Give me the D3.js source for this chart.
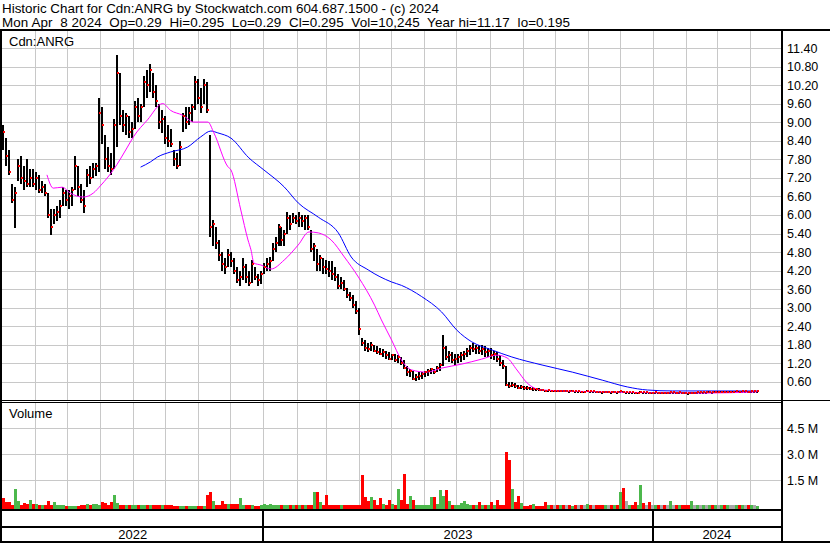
<!DOCTYPE html>
<html>
<head>
<meta charset="utf-8">
<script src="https://cdn.jsdelivr.net/npm/d3@7"></script>
<style>
body { margin: 0; background: #fff; }
svg { display: block; font-family: "Liberation Sans", Arial, sans-serif; }
text { white-space: pre; }
</style>
</head>
<body>
<svg id="chart" width="830" height="543"></svg>
<script>
// bars = 2 trading days each, May 2 2022 .. Apr 8 2024
const hi = [
  8.9, 8.5, 8.1, 7.0, 6.9, 7.8, 7.9, 7.6, 7.8, 7.5,
  7.5, 7.4, 7.3, 7.1, 7.0, 6.7, 6.2, 6.2, 6.3, 6.5,
  6.9, 6.8, 6.8, 6.9, 7.9, 7.6, 7.0, 6.8, 7.5, 7.6,
  7.7, 7.7, 9.8, 9.5, 8.6, 8.2, 8.0, 9.1, 11.17, 10.6,
  9.4, 9.3, 9.2, 9.0, 9.7, 9.8, 9.6, 10.5, 10.7, 10.9,
  10.6, 10.2, 9.6, 9.4, 9.2, 8.9, 8.8, 8.1, 8.0, 8.4,
  9.3, 9.5, 9.5, 9.6, 10.5, 10.4, 10.1, 10.4, 10.3, 8.6,
  5.85, 5.6, 5.2, 4.8, 4.6, 4.9, 4.8, 4.6, 4.3, 4.2,
  4.6, 4.4, 4.2, 4.55, 4.3, 4.1, 4.2, 4.45, 4.6, 4.65,
  5.1, 5.3, 5.7, 5.6, 5.5, 6.1, 6.0, 6.05, 6.0, 6.1,
  6.0, 6.0, 6.0, 5.5, 5.1, 4.9, 4.7, 4.6, 4.55, 4.5,
  4.5, 4.3, 4.1, 4.0, 3.9, 3.65, 3.5, 3.4, 3.2, 3.0,
  2.0, 1.95, 1.85, 1.9, 1.8, 1.75, 1.7, 1.65, 1.6, 1.55,
  1.5, 1.5, 1.45, 1.4, 1.3, 1.1, 1.0, 0.95, 0.85, 0.9,
  0.9, 0.95, 1.0, 1.05, 1.0, 1.1, 1.2, 2.1, 1.75, 1.6,
  1.55, 1.5, 1.5, 1.55, 1.6, 1.7, 1.8, 1.85, 1.8, 1.8,
  1.8, 1.75, 1.7, 1.7, 1.6, 1.55, 1.45, 1.3, 1.1, 0.6,
  0.6, 0.55, 0.5, 0.48, 0.46, 0.45, 0.44, 0.42, 0.4, 0.4,
  0.36, 0.34, 0.34, 0.33, 0.33, 0.32, 0.33, 0.32, 0.32, 0.31,
  0.32, 0.31, 0.31, 0.30, 0.30, 0.32, 0.31, 0.31, 0.30, 0.29,
  0.28, 0.29, 0.29, 0.28, 0.29, 0.28, 0.31, 0.29, 0.27, 0.28,
  0.27, 0.25, 0.26, 0.30, 0.28, 0.28, 0.26, 0.26, 0.27, 0.26,
  0.26, 0.25, 0.25, 0.27, 0.27, 0.26, 0.27, 0.26, 0.25, 0.24,
  0.26, 0.26, 0.27, 0.27, 0.28, 0.28, 0.29, 0.28, 0.29, 0.29,
  0.30, 0.29, 0.30, 0.30, 0.30, 0.31, 0.30, 0.31, 0.31, 0.30,
  0.31, 0.31, 0.30
];
const lo = [
  8.1, 7.6, 7.3, 6.4, 5.58, 7.1, 7.0, 6.8, 6.9, 6.9,
  6.9, 6.8, 6.7, 6.7, 6.6, 5.9, 5.35, 5.7, 5.8, 5.9,
  6.3, 6.3, 6.2, 6.3, 6.8, 6.6, 6.4, 6.05, 6.9, 7.0,
  7.2, 7.25, 7.4, 8.3, 7.5, 7.4, 7.3, 7.5, 8.2, 8.9,
  8.7, 8.6, 8.5, 8.5, 8.8, 9.0, 9.0, 9.5, 9.8, 10.0,
  9.8, 9.5, 8.8, 8.65, 8.3, 8.2, 8.2, 7.6, 7.5, 7.6,
  8.7, 8.8, 8.9, 9.0, 9.4, 9.6, 9.3, 9.6, 9.3, 5.3,
  5.0, 4.9, 4.5, 4.2, 4.1, 4.3, 4.3, 4.1, 3.8, 3.7,
  3.9, 3.8, 3.7, 3.8, 3.9, 3.7, 3.75, 4.1, 4.2, 4.2,
  4.5, 4.8, 5.0, 5.0, 5.0, 5.4, 5.5, 5.75, 5.7, 5.6,
  5.6, 5.5, 5.5, 4.8, 4.5, 4.2, 4.2, 4.1, 4.1, 4.0,
  3.9, 3.85, 3.6, 3.6, 3.55, 3.3, 3.2, 3.0, 2.8, 2.1,
  1.75, 1.6, 1.55, 1.6, 1.55, 1.5, 1.45, 1.4, 1.35, 1.3,
  1.3, 1.25, 1.2, 1.15, 1.0, 0.8, 0.75, 0.65, 0.62, 0.65,
  0.7, 0.75, 0.8, 0.85, 0.85, 0.9, 0.95, 1.1, 1.3, 1.25,
  1.2, 1.15, 1.2, 1.25, 1.3, 1.4, 1.45, 1.55, 1.5, 1.5,
  1.45, 1.4, 1.4, 1.35, 1.3, 1.25, 1.1, 1.0, 0.45, 0.4,
  0.42, 0.4, 0.36, 0.36, 0.34, 0.33, 0.32, 0.3, 0.3, 0.29,
  0.30, 0.29, 0.30, 0.29, 0.29, 0.28, 0.29, 0.28, 0.28, 0.27,
  0.28, 0.27, 0.27, 0.26, 0.26, 0.27, 0.27, 0.27, 0.26, 0.25,
  0.24, 0.25, 0.25, 0.24, 0.25, 0.24, 0.26, 0.23, 0.23, 0.24,
  0.23, 0.21, 0.22, 0.24, 0.24, 0.24, 0.22, 0.22, 0.23, 0.22,
  0.22, 0.21, 0.21, 0.23, 0.23, 0.22, 0.23, 0.22, 0.21, 0.195,
  0.22, 0.22, 0.23, 0.23, 0.24, 0.24, 0.25, 0.24, 0.25, 0.25,
  0.26, 0.25, 0.26, 0.26, 0.26, 0.27, 0.26, 0.27, 0.27, 0.26,
  0.27, 0.27, 0.285
];
const cl = [
  8.7, 7.9, 7.4, 6.5, 6.7, 7.6, 7.2, 7.1, 7.0, 7.2,
  7.0, 7.2, 6.8, 6.9, 6.7, 6.0, 5.6, 6.0, 6.1, 6.3,
  6.7, 6.5, 6.6, 6.8, 7.6, 6.9, 6.5, 6.3, 7.3, 7.2,
  7.5, 7.6, 9.3, 8.9, 7.8, 7.6, 7.5, 8.9, 10.6, 9.2,
  8.9, 9.2, 8.7, 8.8, 9.5, 9.2, 9.5, 10.3, 10.2, 10.7,
  10.0, 9.7, 9.0, 9.1, 8.5, 8.4, 8.3, 7.8, 7.6, 8.2,
  9.2, 9.0, 9.3, 9.5, 10.3, 9.8, 9.5, 10.2, 9.4, 5.6,
  5.7, 5.1, 4.7, 4.4, 4.3, 4.7, 4.5, 4.2, 3.9, 4.0,
  4.3, 4.0, 3.8, 4.4, 4.0, 3.9, 4.1, 4.3, 4.4, 4.5,
  4.9, 5.1, 5.6, 5.2, 5.4, 5.9, 5.7, 5.9, 5.8, 5.9,
  5.8, 5.9, 5.6, 4.9, 5.0, 4.4, 4.6, 4.3, 4.25, 4.2,
  4.1, 4.0, 3.7, 3.8, 3.6, 3.4, 3.3, 3.1, 2.9, 2.3,
  1.85, 1.7, 1.65, 1.8, 1.6, 1.55, 1.5, 1.55, 1.45, 1.35,
  1.45, 1.3, 1.4, 1.2, 1.05, 0.9, 0.95, 0.7, 0.75, 0.8,
  0.85, 0.9, 0.95, 1.0, 0.9, 1.05, 1.15, 1.7, 1.4, 1.45,
  1.3, 1.35, 1.4, 1.45, 1.5, 1.6, 1.7, 1.65, 1.7, 1.6,
  1.65, 1.55, 1.6, 1.45, 1.5, 1.35, 1.2, 1.1, 0.5, 0.45,
  0.5, 0.45, 0.4, 0.42, 0.4, 0.38, 0.36, 0.37, 0.36, 0.34,
  0.33, 0.31, 0.32, 0.31, 0.31, 0.30, 0.31, 0.30, 0.30, 0.29,
  0.30, 0.29, 0.29, 0.28, 0.28, 0.30, 0.29, 0.29, 0.28, 0.27,
  0.26, 0.27, 0.27, 0.26, 0.27, 0.26, 0.29, 0.25, 0.25, 0.26,
  0.25, 0.23, 0.24, 0.28, 0.26, 0.26, 0.24, 0.24, 0.25, 0.24,
  0.24, 0.23, 0.23, 0.25, 0.25, 0.24, 0.25, 0.24, 0.23, 0.22,
  0.24, 0.24, 0.25, 0.25, 0.26, 0.26, 0.27, 0.26, 0.27, 0.27,
  0.28, 0.27, 0.28, 0.28, 0.28, 0.29, 0.28, 0.29, 0.29, 0.28,
  0.29, 0.29, 0.295
];
// volume in millions of shares
const vol = [
  0.48, 0.25, 0.25, 0.06, 0.99, 0.27, 0.04, 0.16, 0.12, 0.35,
  0.12, 0.12, 0.04, 0.04, 0.04, 0.29, 0.04, 0.25, 0.04, 0.04,
  0.04, 0.02, 0.02, 0.02, 0.02, 0.02, 0.06, 0.04, 0.12, 0.03,
  0.10, 0.10, 0.06, 0.25, 0.16, 0.06, 0.25, 0.64, 0.16, 0.06,
  0.04, 0.04, 0.04, 0.04, 0.03, 0.03, 0.03, 0.03, 0.03, 0.03,
  0.06, 0.04, 0.04, 0.04, 0.04, 0.04, 0.04, 0.02, 0.02, 0.02,
  0.02, 0.02, 0.02, 0.02, 0.02, 0.02, 0.02, 0.02, 0.64, 0.83,
  0.29, 0.06, 0.06, 0.29, 0.12, 0.10, 0.10, 0.10, 0.10, 0.48,
  0.06, 0.04, 0.04, 0.06, 0.02, 0.02, 0.04, 0.10, 0.06, 0.10,
  0.06, 0.06, 0.06, 0.06, 0.06, 0.06, 0.03, 0.03, 0.03, 0.03,
  0.03, 0.03, 0.03, 0.06, 0.83, 0.83, 0.25, 0.06, 0.64, 0.04,
  0.04, 0.04, 0.06, 0.04, 0.06, 0.04, 0.06, 0.04, 0.06, 0.06,
  1.80, 0.50, 0.29, 0.54, 0.35, 0.06, 0.45, 0.12, 0.03, 0.35,
  0.10, 0.06, 0.99, 0.35, 1.86, 0.12, 0.58, 0.35, 0.04, 0.04,
  0.04, 0.04, 0.04, 0.54, 0.54, 0.12, 0.93, 0.58, 0.93, 0.29,
  0.06, 0.03, 0.03, 0.16, 0.29, 0.12, 0.06, 0.06, 0.06, 0.21,
  0.04, 0.04, 0.04, 0.21, 0.06, 0.35, 0.04, 0.04, 3.12, 2.67,
  0.99, 0.21, 0.58, 0.16, 0.02, 0.02, 0.04, 0.12, 0.02, 0.02,
  0.02, 0.21, 0.03, 0.03, 0.03, 0.03, 0.03, 0.03, 0.04, 0.03,
  0.02, 0.03, 0.04, 0.03, 0.03, 0.12, 0.03, 0.03, 0.04, 0.06,
  0.06, 0.03, 0.03, 0.04, 0.03, 0.03, 0.83, 1.06, 0.29, 0.06,
  0.06, 0.25, 0.04, 1.22, 0.16, 0.03, 0.21, 0.04, 0.03, 0.03,
  0.03, 0.03, 0.04, 0.29, 0.03, 0.03, 0.06, 0.03, 0.03, 0.03,
  0.29, 0.03, 0.06, 0.03, 0.03, 0.03, 0.03, 0.06, 0.03, 0.03,
  0.03, 0.03, 0.03, 0.03, 0.03, 0.03, 0.04, 0.03, 0.03, 0.03,
  0.06, 0.03, 0.01
];
// moving averages (bar index, price)
const fastIdx = [14.6, 16.7, 19.7, 22.4, 26.7, 30.1, 32.7, 36.8, 41.5, 43.5, 48.2, 53.3, 55.9, 60.0, 63.7, 68.4, 70.4, 75.1, 76.1, 79.4, 81.8, 82.8, 83.8, 86.1, 89.5, 93.9, 98.6, 102.2, 105.3, 109.6, 114.0, 118.7, 124.1, 126.4, 129.8, 133.1, 136.5, 141.5, 146.5, 153.3, 159.9, 165.0, 168.4, 171.7, 175.1, 180.1, 200.2, 233.8, 252.0];
const fastVal = [7.30, 6.87, 6.90, 6.71, 6.58, 6.71, 6.97, 7.46, 8.20, 8.53, 9.08, 9.61, 9.39, 9.23, 9.01, 9.01, 8.66, 7.56, 7.46, 6.16, 5.19, 4.87, 4.44, 4.38, 4.25, 4.54, 5.03, 5.45, 5.42, 5.19, 4.64, 3.99, 3.08, 2.60, 1.95, 1.30, 0.98, 0.91, 1.04, 1.17, 1.33, 1.46, 1.37, 0.98, 0.56, 0.33, 0.27, 0.23, 0.27];
const slowIdx = [45.9, 49.2, 51.6, 55.9, 61.6, 66.0, 69.4, 71.7, 76.1, 82.1, 87.1, 93.9, 98.6, 105.3, 112.0, 116.3, 122.0, 129.8, 133.1, 139.8, 146.5, 151.6, 156.6, 163.3, 170.0, 180.1, 190.2, 200.2, 208.6, 215.3, 223.7, 252.0];
const slowVal = [7.55, 7.72, 7.88, 8.04, 8.20, 8.53, 8.72, 8.66, 8.49, 7.85, 7.46, 6.91, 6.39, 5.93, 5.42, 4.64, 4.22, 3.83, 3.72, 3.36, 2.86, 2.27, 1.89, 1.63, 1.40, 1.14, 0.91, 0.65, 0.43, 0.33, 0.30, 0.30];

const priceTicks = [0.6, 1.2, 1.8, 2.4, 3.0, 3.6, 4.2, 4.8, 5.4, 6.0, 6.6, 7.2, 7.8, 8.4, 9.0, 9.6, 10.2, 10.8, 11.4];
const volTicks = [1.5, 3.0, 4.5];
const years = [2022, 2023, 2024];
const title1 = "Historic Chart for Cdn:ANRG by Stockwatch.com 604.687.1500 - (c) 2024";
const title2 = "Mon Apr  8 2024  Op=0.29  Hi=0.295  Lo=0.29  Cl=0.295  Vol=10,245  Year hi=11.17  lo=0.195";

const svg = d3.select("#chart");
const W = 830, H = 543;
const left = 2, right = 781;

const x = d3.scaleTime()
    .domain([new Date(2022, 4, 1), new Date(2024, 4, 1)])
    .range([2.2, 781.7]);
const xi = d3.scaleLinear()
    .domain([0, hi.length - 1])
    .range([x(new Date(2022, 4, 2)), x(new Date(2024, 3, 8))]);
const y = d3.scaleLinear().domain([0, 11.96]).range([400.2, 31]);
const yv = d3.scaleLinear().domain([0, 6]).range([506, 402.6]);

svg.append("rect").attr("width", W).attr("height", H).attr("fill", "#fff");

// grid
const grid = svg.append("g").attr("stroke", "#c8c8c8").attr("shape-rendering", "crispEdges");
const months = d3.timeMonth.range(new Date(2022, 5, 1), new Date(2024, 4, 1));
grid.selectAll(".gm").data(months).join("line").attr("class", "gm")
    .attr("x1", d => Math.round(x(d)) + 0.5).attr("x2", d => Math.round(x(d)) + 0.5)
    .attr("y1", 31).attr("y2", 400);
grid.selectAll(".gv").data(months).join("line").attr("class", "gv")
    .attr("x1", d => Math.round(x(d)) + 0.5).attr("x2", d => Math.round(x(d)) + 0.5)
    .attr("y1", 403).attr("y2", 509);
grid.selectAll(".gp").data(priceTicks).join("line").attr("class", "gp")
    .attr("x1", left).attr("x2", right)
    .attr("y1", d => Math.round(y(d)) + 0.5).attr("y2", d => Math.round(y(d)) + 0.5);
grid.selectAll(".gq").data(volTicks).join("line").attr("class", "gq")
    .attr("x1", left).attr("x2", right)
    .attr("y1", d => Math.round(yv(d)) + 0.5).attr("y2", d => Math.round(yv(d)) + 0.5);

// volume bars, coloured by close change
const volColor = i => {
  if (i === 0 || cl[i] < cl[i - 1]) return "#ff0000";
  if (cl[i] > cl[i - 1]) return "#4cb84c";
  return "#a8a8a8";
};
svg.append("g").attr("shape-rendering", "crispEdges")
  .selectAll("rect").data(vol).join("rect")
    .attr("x", (d, i) => Math.round(xi(i)) - 1)
    .attr("width", 3)
    .attr("y", d => Math.min(Math.round(yv(d)), 507))
    .attr("height", d => 509 - Math.min(Math.round(yv(d)), 507))
    .attr("fill", (d, i) => volColor(i));

// price bars
const bars = svg.append("g").attr("shape-rendering", "crispEdges");
bars.selectAll("rect").data(hi).join("rect")
    .attr("x", (d, i) => Math.round(xi(i)) - 1)
    .attr("width", 2)
    .attr("y", d => Math.round(y(d)))
    .attr("height", (d, i) => Math.max(2, Math.round(y(lo[i])) - Math.round(y(d))))
    .attr("fill", "#000");

// moving averages
const line = d3.line().x(d => xi(d[0])).y(d => y(d[1])).curve(d3.curveMonotoneX);
svg.append("path").datum(d3.zip(slowIdx, slowVal))
    .attr("d", line).attr("fill", "none").attr("stroke", "#0000ff").attr("stroke-width", 1);
svg.append("path").datum(d3.zip(fastIdx, fastVal))
    .attr("d", line).attr("fill", "none").attr("stroke", "#ff00ff").attr("stroke-width", 1);

// close marks
svg.append("g").attr("shape-rendering", "crispEdges")
  .selectAll("rect").data(cl).join("rect")
    .attr("x", (d, i) => Math.round(xi(i)))
    .attr("width", 2).attr("height", 2)
    .attr("y", d => Math.round(y(d)) - 1)
    .attr("fill", "#ff0000");

// frame
const frame = svg.append("g").attr("fill", "#000").attr("shape-rendering", "crispEdges");
frame.append("rect").attr("x", 0).attr("y", 29).attr("width", W).attr("height", 2);
frame.append("rect").attr("x", 0).attr("y", 29).attr("width", 2).attr("height", H - 29);
frame.append("rect").attr("x", 781).attr("y", 29).attr("width", 2).attr("height", H - 29);
frame.append("rect").attr("x", 0).attr("y", 400).attr("width", W).attr("height", 1);
frame.append("rect").attr("x", 0).attr("y", 402).attr("width", 782).attr("height", 1);
frame.append("rect").attr("x", 0).attr("y", 509).attr("width", 782).attr("height", 2);
frame.append("rect").attr("x", 0).attr("y", 526).attr("width", 782).attr("height", 2);
frame.append("rect").attr("x", 0).attr("y", 541).attr("width", W).attr("height", 2);
const yearStarts = years.slice(1).map(yr => new Date(yr, 0, 1));
frame.selectAll(".yd").data(yearStarts).join("rect").attr("class", "yd")
    .attr("x", d => Math.round(x(d)) - 1).attr("y", 509).attr("width", 2).attr("height", 33);

// axes on the right
const pAxis = svg.append("g").attr("transform", "translate(782,0)")
    .call(d3.axisRight(y).tickValues(priceTicks).tickSize(0).tickPadding(5).tickFormat(d3.format(".2f")));
const vAxis = svg.append("g").attr("transform", "translate(782,0)")
    .call(d3.axisRight(yv).tickValues(volTicks).tickSize(0).tickPadding(5).tickFormat(d => d.toFixed(1) + " M"));
[pAxis, vAxis].forEach(a => {
  a.select(".domain").remove();
  a.selectAll("text").attr("font-family", "Liberation Sans, Arial, sans-serif")
      .attr("font-size", 12.5).attr("fill", "#000");
});

// year labels
svg.selectAll(".yl").data(years).join("text").attr("class", "yl")
    .attr("x", yr => {
      const a = Math.max(x(new Date(yr, 0, 1)), left);
      const b = Math.min(x(new Date(yr + 1, 0, 1)), right);
      return (a + b) / 2;
    })
    .attr("y", 539).attr("text-anchor", "middle")
    .attr("font-size", 13).text(d => d);

// titles
svg.append("text").attr("x", 2).attr("y", 13).attr("font-size", 13.4).text(title1);
svg.append("text").attr("x", 2).attr("y", 27).attr("font-size", 13.4)
    .attr("textLength", 568).attr("lengthAdjust", "spacing").text(title2);
svg.append("text").attr("x", 9).attr("y", 46).attr("font-size", 13).text("Cdn:ANRG");
svg.append("text").attr("x", 9).attr("y", 418).attr("font-size", 13).text("Volume");
</script>
</body>
</html>
